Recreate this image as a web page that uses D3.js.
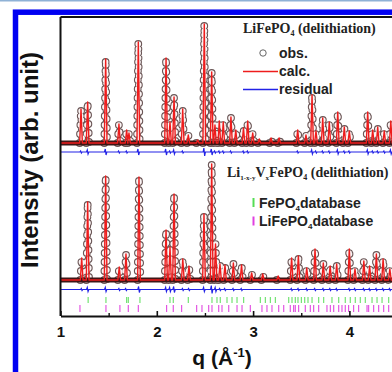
<!DOCTYPE html>
<html>
<head>
<meta charset="utf-8">
<script src="https://cdn.jsdelivr.net/npm/d3@7"></script>
<style>
  body { margin: 0; background: #fff; }
  svg { display: block; }
</style>
</head>
<body>
<div id="chart"></div>
<script>
// peaks: position q (1/A) and height (arb. unit)
const topQ = [1.213, 1.282, 1.469, 1.607, 1.687, 1.711, 1.808, 2.096, 2.137, 2.179, 2.269, 2.327, 2.425,
  2.493, 2.570, 2.604, 2.649, 2.690, 2.770, 2.820, 2.900, 2.944, 2.996, 3.064, 3.186, 3.270, 3.463, 3.549,
  3.612, 3.653, 3.723, 3.791, 3.879, 3.947, 3.999, 4.190, 4.242, 4.294, 4.362, 4.430];
const topH = [34, 41, 84, 19, 13, 10, 101, 85, 21, 46, 34, 8, 3,
  119, 71, 18, 22, 21, 26, 13, 15, 22, 10, 4, 5, 5, 13, 8,
  48, 12, 25, 21, 31, 16, 12, 31, 13, 16, 12, 22];
const topRes = [1, 2, 3, 1, 1, 0, 3, 3, 1, 2, 1, 0, 0,
  4, 3, 1, 1, 1, 1, 0, 1, 1, 0, 0, 0, 0, 1, 0,
  2, 1, 1, 1, 2, 1, 1, 2, 1, 1, 1, 2];

const botQ = [1.220, 1.282, 1.469, 1.610, 1.680, 1.815, 2.096, 2.137, 2.179, 2.270, 2.334, 2.490, 2.570,
  2.610, 2.656, 2.708, 2.795, 2.880, 2.985, 3.100, 3.260, 3.400, 3.470, 3.557, 3.643, 3.729, 3.800,
  3.868, 3.999, 4.058, 4.150, 4.210, 4.280, 4.350, 4.420];
const botH = [22, 78, 104, 13, 26, 103, 50, 33, 86, 21, 14, 66, 116,
  36, 16, 15, 17, 15, 7, 6, 4, 22, 24, 12, 31, 17, 14,
  16, 31, 11, 19, 14, 26, 21, 11];
const botRes = [1, 2, 2, 1, 1, 3, 2, 2, 3, 1, 1, 2, 4,
  2, 1, 1, 1, 1, 0, 0, 0, 1, 1, 1, 1, 1, 1,
  1, 1, 1, 1, 1, 1, 1, 1];

// Bragg reflection markers
const fepo4Ticks = [1.287, 1.472, 1.687, 1.704, 1.825, 2.137, 2.171, 2.327, 2.573, 2.625, 2.659, 2.729,
  2.781, 2.833, 2.902, 3.075, 3.127, 3.179, 3.231, 3.370, 3.404, 3.438, 3.466, 3.501, 3.536, 3.570,
  3.612, 3.681, 3.733, 3.819, 3.889, 3.957, 4.009, 4.061, 4.113, 4.165, 4.235, 4.287, 4.339, 4.408];
const lifepo4Ticks = [1.202, 1.472, 1.617, 1.704, 1.808, 2.102, 2.171, 2.258, 2.414, 2.469, 2.539, 2.573,
  2.643, 2.677, 2.747, 2.833, 2.885, 2.971, 3.092, 3.144, 3.196, 3.266, 3.318, 3.386, 3.421, 3.438,
  3.473, 3.542, 3.594, 3.629, 3.681, 3.767, 3.802, 3.837, 3.889, 3.923, 3.957, 3.992, 4.044, 4.096,
  4.183, 4.200, 4.252, 4.304, 4.356, 4.408];

const xTicks = [1, 2, 3, 4];
const xMinorTicks = [1.5, 2.5, 3.5, 4.5];

const width = 392;
const height = 372;

const x = d3.scaleLinear().domain([1, 5]).range([60.5, 445.7]);
const y = d3.scaleLinear().domain([0, 299]).range([316, 17]);

// vertical offsets of the two stacked patterns
const topBase = 173, topResBase = 164;
const botBase = 36, botResBase = 26.5;
const hw = 0.014;

const svg = d3.select("#chart").append("svg")
  .attr("width", width)
  .attr("height", height);

// page decoration: thin light strip + blue frame
svg.append("rect").attr("x", 0).attr("y", 0).attr("width", width).attr("height", 1.5).attr("fill", "#8fb2d6");
svg.append("rect")
  .attr("x", 15.5).attr("y", 12.2).attr("width", 600).attr("height", 600)
  .attr("fill", "none").attr("stroke", "#0000f2").attr("stroke-width", 5.5);

const line = d3.line().x(d => x(d[0])).y(d => y(d[1]));

function profile(qs, hs, base) {
  const pts = [[1, base]];
  qs.forEach((q, i) => pts.push([q - hw, base], [q, base + hs[i]], [q + hw, base]));
  pts.push([5, base]);
  return pts;
}

function residual(qs, rs, base) {
  const pts = [[1, base]];
  qs.forEach((q, i) => pts.push([q - 0.012, base], [q - 0.004, base + rs[i]], [q + 0.004, base - rs[i]], [q + 0.012, base]));
  pts.push([5, base]);
  return pts;
}

function drawPattern(qs, hs, rs, base, resBase) {
  const g = svg.append("g");
  const peaks = qs.map((q, i) => [[q - hw, base], [q, base + hs[i]], [q + hw, base]]);

  // observed points: hollow circles along each peak
  g.selectAll("path.obsRing").data(peaks).join("path")
    .attr("d", line)
    .attr("fill", "none")
    .attr("stroke", "#6a5656")
    .attr("stroke-width", 7.8)
    .attr("stroke-linecap", "round")
    .attr("stroke-dasharray", "0 9");
  g.selectAll("path.obsFill").data(peaks).join("path")
    .attr("d", line)
    .attr("fill", "none")
    .attr("stroke", "#fbf4f4")
    .attr("stroke-width", 5.6)
    .attr("stroke-linecap", "round")
    .attr("stroke-dasharray", "0 9");

  // dense obs points along the background
  g.append("path")
    .attr("d", line([[1, base], [5, base]]))
    .attr("stroke", "#3d1616")
    .attr("stroke-width", 5);

  // calculated profile
  g.append("path")
    .attr("d", line(profile(qs, hs, base)))
    .attr("fill", "none")
    .attr("stroke", "#ee1c1c")
    .attr("stroke-width", 1.4)
    .attr("stroke-linejoin", "round");

  // difference curve
  g.append("path")
    .attr("d", line(residual(qs, rs, resBase)))
    .attr("fill", "none")
    .attr("stroke", "#2222e6")
    .attr("stroke-width", 1.2);
}

drawPattern(topQ, topH, topRes, topBase, topResBase);
drawPattern(botQ, botH, botRes, botBase, botResBase);

// reflection tick rows
svg.append("g").selectAll("line").data(fepo4Ticks).join("line")
  .attr("x1", d => x(d)).attr("x2", d => x(d))
  .attr("y1", y(19)).attr("y2", y(13))
  .attr("stroke", "#66e066").attr("stroke-width", 1.1);
svg.append("g").selectAll("line").data(lifepo4Ticks).join("line")
  .attr("x1", d => x(d)).attr("x2", d => x(d))
  .attr("y1", y(11)).attr("y2", y(4))
  .attr("stroke", "#e048e0").attr("stroke-width", 1.1);

// axes frame
const xAxis = svg.append("g")
  .attr("transform", `translate(0,${y(0)})`)
  .call(d3.axisBottom(x).tickValues(xTicks).tickSize(-5).tickSizeOuter(0).tickPadding(10).tickFormat(d3.format("d")));
xAxis.select(".domain").attr("stroke", "#111").attr("stroke-width", 2);
xAxis.selectAll(".tick line").attr("stroke", "#111").attr("stroke-width", 1.6);
xAxis.selectAll(".tick text")
  .attr("font-family", "Liberation Sans, Arial, sans-serif")
  .attr("font-weight", "bold")
  .attr("font-size", 15)
  .attr("fill", "#111");

svg.append("g")
  .attr("transform", `translate(0,${y(0)})`)
  .call(d3.axisBottom(x).tickValues(xMinorTicks).tickSize(-3).tickSizeOuter(0).tickFormat(""))
  .call(g => g.select(".domain").remove())
  .selectAll(".tick line").attr("stroke", "#111").attr("stroke-width", 1.4);

svg.append("line")
  .attr("x1", x(1)).attr("x2", x(1)).attr("y1", y(299)).attr("y2", y(0))
  .attr("stroke", "#111").attr("stroke-width", 2);
svg.append("line")
  .attr("x1", x(1)).attr("x2", x(5)).attr("y1", y(299)).attr("y2", y(299))
  .attr("stroke", "#111").attr("stroke-width", 1.8);

// axis titles
const sans = "Liberation Sans, Arial, sans-serif";
const serif = "Liberation Serif, Times New Roman, serif";

const xt = svg.append("text")
  .attr("x", 222).attr("y", 365)
  .attr("text-anchor", "middle")
  .attr("font-family", sans).attr("font-weight", "bold").attr("font-size", 21)
  .attr("fill", "#111");
xt.append("tspan").text("q (Å");
xt.append("tspan").attr("font-size", 13).attr("dy", -8).text("-1");
xt.append("tspan").attr("dy", 8).text(")");

svg.append("text")
  .attr("transform", "translate(38,160) rotate(-90)")
  .attr("text-anchor", "middle")
  .attr("font-family", sans).attr("font-weight", "bold").attr("font-size", 24)
  .attr("fill", "#111")
  .text("Intensity (arb. unit)");

// top pattern legend
const t1 = svg.append("text")
  .attr("x", 243).attr("y", 33)
  .attr("font-family", serif).attr("font-weight", "bold").attr("font-size", 14).attr("fill", "#222");
t1.append("tspan").text("LiFePO");
t1.append("tspan").attr("font-size", 8).attr("dy", 3).text("4");
t1.append("tspan").attr("dy", -3).text(" (delithiation)");

svg.append("circle").attr("cx", 263).attr("cy", 53).attr("r", 3.2)
  .attr("fill", "none").attr("stroke", "#666").attr("stroke-width", 1);
svg.append("line").attr("x1", 243).attr("x2", 278).attr("y1", 71.5).attr("y2", 71.5)
  .attr("stroke", "#ee1c1c").attr("stroke-width", 1.5);
svg.append("line").attr("x1", 243).attr("x2", 278).attr("y1", 89.5).attr("y2", 89.5)
  .attr("stroke", "#2222e6").attr("stroke-width", 1.5);

const legendText = [["obs.", 58], ["calc.", 76], ["residual", 94]];
svg.append("g").selectAll("text").data(legendText).join("text")
  .attr("x", 279).attr("y", d => d[1])
  .attr("font-family", sans).attr("font-weight", "bold").attr("font-size", 14).attr("fill", "#222")
  .text(d => d[0]);

// bottom pattern legend
const t2 = svg.append("text")
  .attr("x", 227).attr("y", 177)
  .attr("font-family", serif).attr("font-weight", "bold").attr("font-size", 14).attr("fill", "#222");
t2.append("tspan").text("Li");
t2.append("tspan").attr("font-size", 7).attr("dy", 3).text("1-x-y");
t2.append("tspan").attr("dy", -3).text("V");
t2.append("tspan").attr("font-size", 7).attr("dy", 3).text("x");
t2.append("tspan").attr("dy", -3).text("FePO");
t2.append("tspan").attr("font-size", 8).attr("dy", 3).text("4");
t2.append("tspan").attr("dy", -3).text(" (delithiation)");

svg.append("line").attr("x1", 253.5).attr("x2", 253.5).attr("y1", 198).attr("y2", 207)
  .attr("stroke", "#55dd55").attr("stroke-width", 2);
svg.append("line").attr("x1", 253.5).attr("x2", 253.5).attr("y1", 216.5).attr("y2", 225.5)
  .attr("stroke", "#e040e0").attr("stroke-width", 2);

[["FePO", 208], ["LiFePO", 226]].forEach(([name, yy]) => {
  const t = svg.append("text")
    .attr("x", 259).attr("y", yy)
    .attr("font-family", sans).attr("font-weight", "bold").attr("font-size", 14).attr("fill", "#222");
  t.append("tspan").text(name);
  t.append("tspan").attr("font-size", 8).attr("dy", 3).text("4");
  t.append("tspan").attr("dy", -3).text("database");
});
</script>
</body>
</html>
